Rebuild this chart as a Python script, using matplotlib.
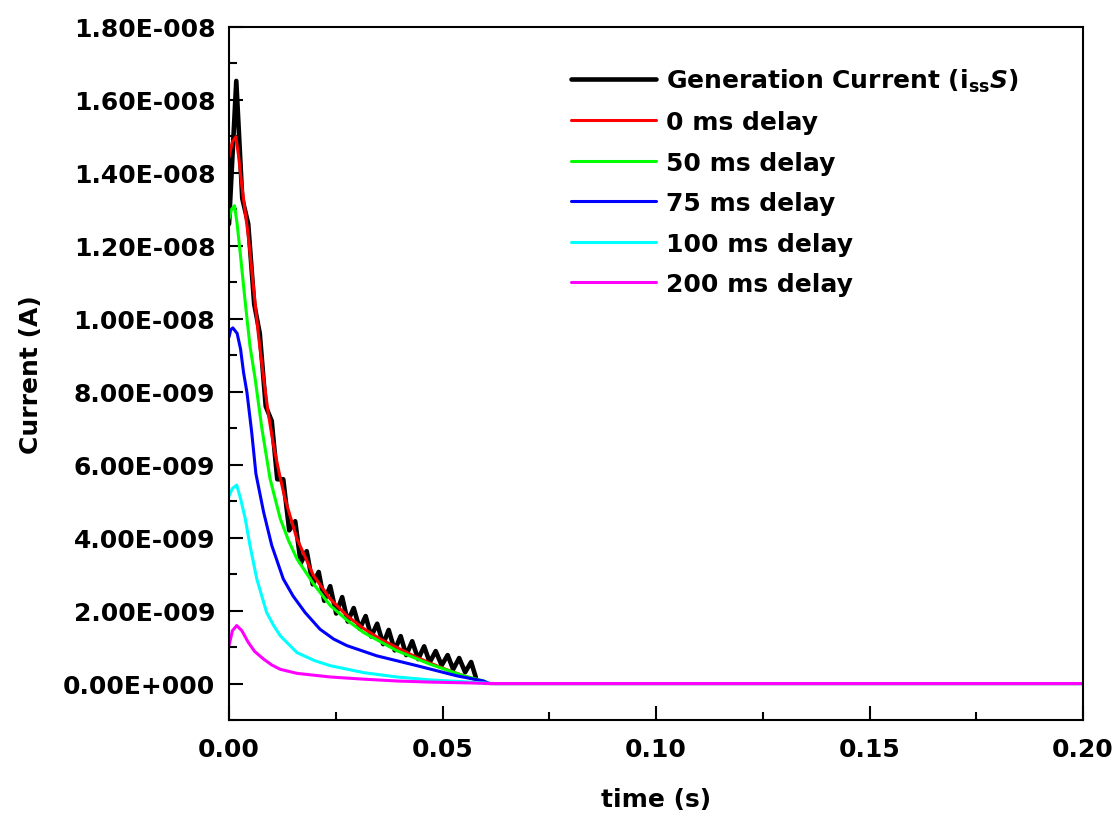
import numpy as np
import matplotlib
matplotlib.use("Agg")
import matplotlib.pyplot as plt
from matplotlib.ticker import MultipleLocator, FuncFormatter

# values, time in s, current in units of 1e-9 A
t_black = [0, 0.0017, 0.0031, 0.0045, 0.0059, 0.0072, 0.0086, 0.0100, 0.0113, 0.0127,
           0.0141, 0.0155, 0.0168, 0.0182, 0.0196, 0.0210, 0.0223, 0.0237, 0.0251, 0.0265,
           0.0278, 0.0292, 0.0306, 0.0320, 0.0333, 0.0347, 0.0361, 0.0374, 0.0388, 0.0402,
           0.0415, 0.0429, 0.0443, 0.0457, 0.0470, 0.0484, 0.0498, 0.0512, 0.0525, 0.0539,
           0.0553, 0.0567, 0.0578]
i_black = [12.6, 16.52, 13.3, 12.6, 10.4, 9.6, 7.6, 7.2, 5.6, 5.6,
           4.2, 4.45, 3.3, 3.63, 2.72, 3.06, 2.27, 2.67, 1.92, 2.37,
           1.70, 2.07, 1.50, 1.85, 1.29, 1.64, 1.08, 1.47, 0.91, 1.30,
           0.78, 1.16, 0.67, 1.02, 0.58, 0.89, 0.50, 0.78, 0.39, 0.70,
           0.31, 0.59, 0.17]

t_red = [0, 0.0008, 0.0016, 0.0022, 0.0030, 0.0045, 0.0057, 0.0069, 0.0081, 0.0092,
         0.0104, 0.0117, 0.0131, 0.0159, 0.0198, 0.0237, 0.0276, 0.0315, 0.0354, 0.0393,
         0.0432, 0.0471, 0.0510, 0.0550, 0.0581, 0.0600, 0.2000]
i_red = [14.44, 14.85, 14.99, 14.5, 13.65, 12.28, 10.9, 9.54, 8.37, 7.4,
         6.54, 5.8, 5.07, 3.97, 2.96, 2.32, 1.86, 1.51, 1.22, 0.99,
         0.76, 0.56, 0.38, 0.21, 0.09, 0.0, 0.0]

t_green = [0, 0.0006, 0.0013, 0.0019, 0.0026, 0.0038, 0.0049, 0.0061, 0.0077, 0.0096,
           0.0120, 0.0140, 0.0159, 0.0198, 0.0237, 0.0276, 0.0315, 0.0393, 0.0471, 0.0550,
           0.0596, 0.0610, 0.2000]
i_green = [12.74, 13.0, 13.1, 12.6, 11.83, 10.45, 9.26, 8.37, 6.99, 5.62,
           4.52, 3.9, 3.42, 2.73, 2.14, 1.74, 1.40, 0.90, 0.53, 0.21,
           0.07, 0.0, 0.0]

t_blue = [0, 0.0004, 0.0009, 0.0019, 0.0027, 0.0034, 0.0042, 0.0053, 0.0063, 0.0081,
          0.0100, 0.0127, 0.0150, 0.0178, 0.0213, 0.0245, 0.0276, 0.0346, 0.0440, 0.0534,
          0.0596, 0.0610, 0.2000]
i_blue = [9.5, 9.7, 9.75, 9.6, 9.17, 8.53, 7.98, 6.9, 5.75, 4.70,
          3.79, 2.87, 2.4, 1.95, 1.49, 1.22, 1.04, 0.76, 0.49, 0.21,
          0.07, 0.0, 0.0]

t_cyan = [0, 0.0008, 0.0018, 0.0027, 0.0038, 0.0049, 0.0065, 0.0088, 0.0104, 0.0120,
          0.0159, 0.0200, 0.0237, 0.0315, 0.0393, 0.0471, 0.0550, 0.0604, 0.0620, 0.2000]
i_cyan = [5.14, 5.35, 5.44, 5.07, 4.52, 3.79, 2.87, 1.95, 1.6, 1.31,
          0.85, 0.63, 0.49, 0.30, 0.18, 0.10, 0.05, 0.01, 0.0, 0.0]

t_magenta = [0, 0.0008, 0.0018, 0.0030, 0.0045, 0.0060, 0.0081, 0.0100, 0.0120, 0.0159,
             0.0237, 0.0315, 0.0393, 0.0471, 0.0550, 0.0620, 0.2000]
i_magenta = [1.04, 1.45, 1.59, 1.45, 1.13, 0.88, 0.67, 0.51, 0.39, 0.28,
             0.18, 0.12, 0.07, 0.04, 0.02, 0.0, 0.0]

labels = [r'Generation Current (i$_{\mathbf{ss}}$$\mathbfit{S}$)', '0 ms delay', '50 ms delay',
          '75 ms delay', '100 ms delay', '200 ms delay']
colors = ['#000000', '#ff0000', '#00ff00', '#0000ff', '#00ffff', '#ff00ff']


def sci_label(v, pos):
    # Origin style: 1.80E-008
    s = f'{v:.2E}'
    mant, exp = s.split('E')
    return f'{mant}E{exp[0]}{int(exp[1:]):03d}'


def main():
    plt.rcParams['font.family'] = ['DejaVu Sans']
    plt.rcParams['font.weight'] = 'bold'
    plt.rcParams['font.size'] = 18

    fig = plt.figure(figsize=(11.15, 8.2), dpi=100)
    ax = fig.add_axes([0.2054, 0.1207, 0.7659, 0.8452])

    series = [(t_black, i_black), (t_red, i_red), (t_green, i_green),
              (t_blue, i_blue), (t_cyan, i_cyan), (t_magenta, i_magenta)]
    for k, (t, i) in enumerate(series):
        lw = 3.3 if k == 0 else 2.2
        ax.plot(t, np.array(i) * 1e-9, color=colors[k], lw=lw, label=labels[k],
                solid_joinstyle='round', solid_capstyle='round')

    ax.set_xlim(0, 0.2)
    ax.set_ylim(-1e-9, 1.8e-8)
    ax.xaxis.set_major_locator(MultipleLocator(0.05))
    ax.xaxis.set_minor_locator(MultipleLocator(0.025))
    ax.yaxis.set_major_locator(MultipleLocator(2e-9))
    ax.yaxis.set_minor_locator(MultipleLocator(1e-9))
    ax.xaxis.set_major_formatter(FuncFormatter(lambda v, p: f'{v:.2f}'))
    ax.yaxis.set_major_formatter(FuncFormatter(sci_label))

    ax.tick_params(which='both', direction='in', width=1.5, top=False, right=False)
    ax.tick_params(which='major', length=10, labelsize=18)
    ax.tick_params(axis='x', which='major', pad=12)
    ax.tick_params(axis='y', which='major', pad=10)
    ax.tick_params(which='minor', length=5.5)
    for sp in ax.spines.values():
        sp.set_linewidth(1.5)

    ax.set_xlabel('time (s)', fontsize=18, fontweight='bold', labelpad=19)
    ax.set_ylabel('Current (A)', fontsize=18, fontweight='bold', labelpad=14)

    ax.legend(loc='upper left', bbox_to_anchor=(0.40, 0.943), frameon=False,
              fontsize=18, handlelength=3.4, handletextpad=0.4, labelspacing=0.66,
              borderpad=0, borderaxespad=0)

    fig.savefig('out.png', dpi=100)


if __name__ == "__main__":
    main()
